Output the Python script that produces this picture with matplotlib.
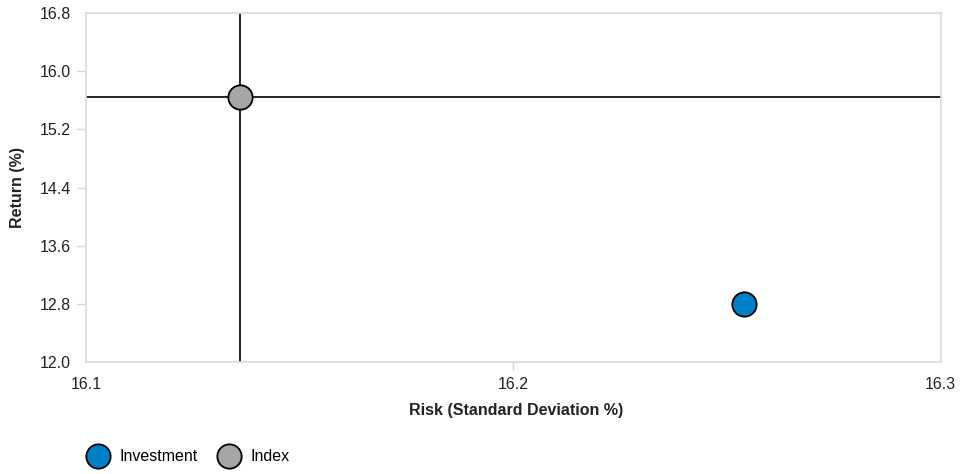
import matplotlib
matplotlib.use("Agg")
import matplotlib.pyplot as plt
from matplotlib.lines import Line2D

plt.rcParams['font.family'] = ['Liberation Sans', 'DejaVu Sans']

series_names = ["Investment", "Index"]
risk_values = [16.254, 16.136]
return_values = [12.80, 15.65]
series_colors = ["#0080c6", "#a6a6a6"]

x_ticks = [16.1, 16.2, 16.3]
y_ticks = [12.0, 12.8, 13.6, 14.4, 15.2, 16.0, 16.8]
x_label = "Risk (Standard Deviation %)"
y_label = "Return (%)"

FS = 11.5
W, H = 961, 474
fig = plt.figure(figsize=(W / 100, H / 100), dpi=100)
left, right, top, bottom = 86.3, 940.7, 13.3, 361.7
ax = fig.add_axes([left / W, 1 - bottom / H, (right - left) / W, (bottom - top) / H])

ax.set_xlim(x_ticks[0], x_ticks[-1])
ax.set_ylim(y_ticks[0], y_ticks[-1])
ax.set_xticks(x_ticks)
ax.set_xticklabels([f"{v:.1f}" for v in x_ticks])
ax.set_yticks(y_ticks)
ax.set_yticklabels([f"{v:.1f}" for v in y_ticks])

for s in ax.spines.values():
    s.set_color("#d9d9d9")
    s.set_linewidth(1.2)

ax.tick_params(axis='both', colors="#d9d9d9", labelcolor="#222222",
               width=1.0, labelsize=FS)
ax.tick_params(axis='x', length=6, pad=5)
ax.tick_params(axis='y', length=6.5, pad=4.5)

# hide tick marks at the axis ends (reference shows none there)
for ticks in (ax.xaxis.get_major_ticks(), ax.yaxis.get_major_ticks()):
    ticks[0].tick1line.set_visible(False)
    ticks[-1].tick1line.set_visible(False)

# crosshair at index
idx = series_names.index("Index")
ax.axvline(risk_values[idx], color="black", lw=1.2, zorder=2)
ax.axhline(return_values[idx], color="black", lw=1.2, zorder=2)

for name, x, y, c in zip(series_names, risk_values, return_values, series_colors):
    ax.plot([x], [y], marker='o', linestyle='none', markersize=17.5,
            markerfacecolor=c, markeredgecolor="black", markeredgewidth=1.3,
            zorder=3, clip_on=False)

fig.text(516 / W, 1 - 410 / H, x_label, ha='center', va='center',
         fontsize=FS, fontweight='bold', color="#222222")
fig.text(17.5 / W, 1 - 187.5 / H, y_label, ha='center', va='center',
         rotation=90, fontsize=FS, fontweight='bold', color="#222222")

handles = [Line2D([0], [0], marker='o', linestyle='none', markersize=17.5,
                  markerfacecolor=c, markeredgecolor="black", markeredgewidth=1.3)
           for c in series_colors]
fig.legend(handles, series_names, loc='center left',
           bbox_to_anchor=(86 / W, 1 - 456.7 / H), ncol=2, frameon=False,
           fontsize=FS, handlelength=1.5, handletextpad=0.6, columnspacing=1.2,
           borderpad=0, borderaxespad=0)

fig.savefig("out.png", dpi=100)
